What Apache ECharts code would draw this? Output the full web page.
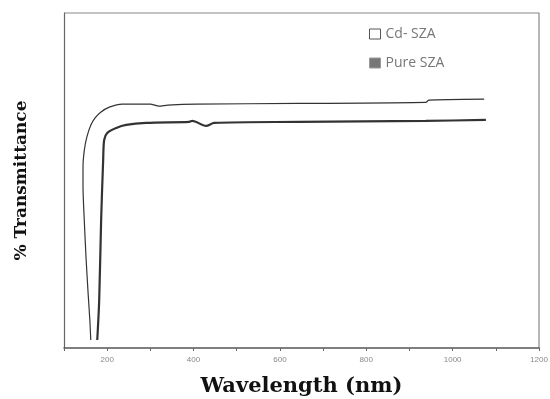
<!DOCTYPE html>
<html>
<head>
<meta charset="utf-8">
<script src="https://cdn.jsdelivr.net/npm/echarts@6/dist/echarts.min.js"></script>
<style>
  html, body { margin: 0; padding: 0; background: #fff; }
  #chart-container { width: 550px; height: 399px; }
</style>
</head>
<body>
<div id="chart-container"></div>
<script>
// wavelength (nm) / transmittance (arbitrary %)
const cdWave = [162, 160, 156, 151, 147, 144, 144, 147, 153, 162, 172, 185, 205, 235, 300, 320, 340, 406, 644, 938, 945, 1073];
const cdTrans = [2.4, 8, 16, 27, 38, 48, 54, 59, 63, 66.5, 68.7, 70.4, 71.9, 72.8, 72.8, 72.2, 72.5, 72.8, 73.0, 73.3, 74.0, 74.3];

const pureWave = [177, 181.5, 186, 190.7, 193, 200, 221, 244, 290, 390, 397, 429, 448, 644, 938, 1077];
const pureTrans = [2.4, 14.3, 38.2, 56.1, 62.1, 64.2, 65.7, 66.6, 67.2, 67.5, 67.8, 66.3, 67.2, 67.5, 67.8, 68.1];

const xTicks = [200, 400, 600, 800, 1000, 1200];
const seriesNames = ['Cd- SZA', 'Pure SZA'];

function pairs(xs, ys) {
    return xs.map((x, i) => [x, ys[i]]);
}

const chartDom = document.getElementById('chart-container');
const myChart = echarts.init(chartDom, null, { renderer: 'canvas' });

const option = {
    backgroundColor: '#fff',
    animation: false,
    grid: { left: 64, right: 11, top: 13, bottom: 51, containLabel: false, outerBoundsMode: 'none' },
    legend: {
        orient: 'vertical',
        left: 364,
        top: 22,
        itemWidth: 11,
        itemHeight: 10,
        itemGap: 15,
        textStyle: { fontFamily: 'Open Sans', fontSize: 14, color: '#777' },
        data: [
            { name: seriesNames[0], icon: 'rect', itemStyle: { color: '#fff', borderColor: '#555', borderWidth: 1 } },
            { name: seriesNames[1], icon: 'rect', itemStyle: { color: '#777', borderColor: '#999', borderWidth: 1 } }
        ]
    },
    xAxis: {
        type: 'value',
        min: 100,
        max: 1200,
        interval: 100,
        name: 'Wavelength (nm)',
        nameLocation: 'middle',
        nameGap: 28,
        nameTextStyle: { fontFamily: 'DejaVu Serif', fontWeight: 'bold', fontSize: 21, color: '#111' },
        axisLine: { show: true, lineStyle: { color: '#555', width: 1.5 } },
        axisTick: { show: true, length: 3, lineStyle: { color: '#666' } },
        axisLabel: {
            fontSize: 8,
            color: '#888',
            margin: 8,
            formatter: v => xTicks.includes(v) ? String(v) : ''
        },
        splitLine: { show: false }
    },
    yAxis: {
        type: 'value',
        min: 0,
        max: 100,
        name: '% Transmittance',
        nameLocation: 'middle',
        nameGap: 34,
        nameRotate: 90,
        nameTextStyle: { fontFamily: 'DejaVu Serif', fontWeight: 'bold', fontSize: 17, color: '#111' },
        axisLine: { show: true, lineStyle: { color: '#666', width: 1.2 } },
        axisTick: { show: false },
        axisLabel: { show: false },
        splitLine: { show: false }
    },
    graphic: [
        // top and right frame of the plot box
        { type: 'polyline', silent: true, shape: { points: [[64, 13], [539, 13], [539, 348]] },
          style: { stroke: '#888', lineWidth: 1.2, fill: null } }
    ],
    series: [
        {
            name: seriesNames[0],
            type: 'line',
            data: pairs(cdWave, cdTrans),
            showSymbol: false,
            smooth: 0.2,
            lineStyle: { color: '#333', width: 1.2 },
            itemStyle: { color: '#fff', borderColor: '#555' }
        },
        {
            name: seriesNames[1],
            type: 'line',
            data: pairs(pureWave, pureTrans),
            showSymbol: false,
            smooth: 0.3,
            lineStyle: { color: '#333', width: 2.2 },
            itemStyle: { color: '#777' }
        }
    ]
};
myChart.setOption(option);
</script>
</body>
</html>
